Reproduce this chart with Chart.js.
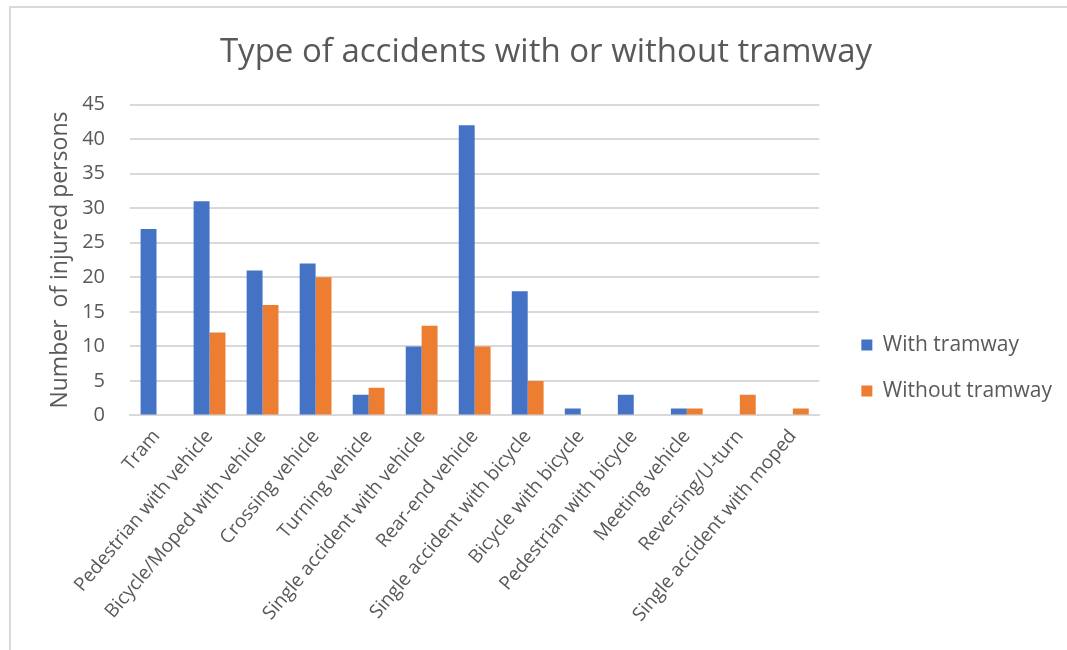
<!DOCTYPE html>
<html>
<head>
<meta charset="utf-8">
<script src="https://cdn.jsdelivr.net/npm/chart.js@4/dist/chart.umd.min.js"></script>
<style>
    body { margin: 0; background: #fff; }
    #wrap { position: relative; width: 1067px; height: 650px; }
    #frame {
        position: absolute; left: 9px; top: 6px; right: 0; bottom: 0;
        border-left: 2px solid #d9d9d9; border-top: 2px solid #d9d9d9;
        pointer-events: none;
    }
</style>
</head>
<body>
<div id="wrap">
    <canvas id="accidentsChart" width="1067" height="650"></canvas>
    <div id="frame"></div>
</div>
<script>
const categories = [
    'Tram',
    'Pedestrian with vehicle',
    'Bicycle/Moped with vehicle',
    'Crossing vehicle',
    'Turning vehicle',
    'Single accident with vehicle',
    'Rear-end vehicle',
    'Single accident with bicycle',
    'Bicycle with bicycle',
    'Pedestrian with bicycle',
    'Meeting vehicle',
    'Reversing/U-turn',
    'Single accident with moped'
];
const withTramway = [27, 31, 21, 22, 3, 10, 42, 18, 1, 3, 1, 0, 0];
const withoutTramway = [0, 12, 16, 20, 4, 13, 10, 5, 0, 0, 1, 3, 1];

const textColor = '#595959';
const fontFamily = '"Open Sans", sans-serif';

// move the legend away from the plot and a bit lower, like the original
const legendShift = {
    id: 'legendShift',
    afterLayout(chart) {
        const lg = chart.legend;
        lg.left += 17;
        lg.right += 17;
        lg.top += 54;
        lg.bottom += 54;
    }
};

new Chart(document.getElementById('accidentsChart'), {
    type: 'bar',
    data: {
        labels: categories,
        datasets: [
            {
                label: 'With tramway',
                data: withTramway,
                backgroundColor: '#4472c4'
            },
            {
                label: 'Without tramway',
                data: withoutTramway,
                backgroundColor: '#ed7d31'
            }
        ]
    },
    options: {
        responsive: false,
        animation: false,
        layout: {
            padding: { left: 47, right: 22, top: 0, bottom: 22 }
        },
        datasets: {
            bar: {
                categoryPercentage: 0.6,
                barPercentage: 1.0
            }
        },
        scales: {
            x: {
                grid: { display: false },
                border: { color: '#d9d9d9', width: 2 },
                ticks: {
                    color: textColor,
                    font: { family: fontFamily, size: 19 },
                    maxRotation: 50,
                    minRotation: 50,
                    autoSkip: false,
                    padding: 2
                }
            },
            y: {
                min: 0,
                max: 45,
                grid: { color: '#d9d9d9', lineWidth: 2, drawTicks: false },
                border: { display: false },
                ticks: {
                    stepSize: 5,
                    color: textColor,
                    font: { family: fontFamily, size: 20 },
                    padding: 25
                },
                title: {
                    display: true,
                    text: 'Number  of injured persons',
                    color: textColor,
                    font: { family: fontFamily, size: 23 },
                    padding: { top: 0, bottom: 4 }
                },
                afterFit(scale) {
                    scale.width = 83;
                }
            }
        },
        plugins: {
            title: {
                display: true,
                text: 'Type of accidents with or without tramway',
                color: textColor,
                font: { family: fontFamily, size: 33, weight: 'normal' },
                padding: { top: 33, bottom: 32 }
            },
            legend: {
                position: 'right',
                labels: {
                    color: textColor,
                    font: { family: fontFamily, size: 21 },
                    boxWidth: 11,
                    boxHeight: 11,
                    padding: 25
                }
            },
            tooltip: { enabled: false }
        }
    },
    plugins: [legendShift]
});
</script>
</body>
</html>
